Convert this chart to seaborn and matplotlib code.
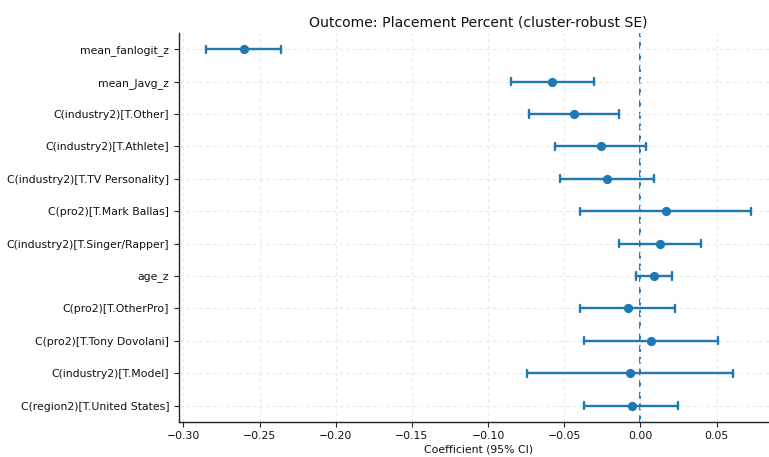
import matplotlib
matplotlib.use("Agg")
import matplotlib.pyplot as plt
import seaborn as sns
import pandas as pd

# Regression terms, point estimates and 95% confidence bounds
terms = [
    "mean_fanlogit_z",
    "mean_Javg_z",
    "C(industry2)[T.Other]",
    "C(industry2)[T.Athlete]",
    "C(industry2)[T.TV Personality]",
    "C(pro2)[T.Mark Ballas]",
    "C(industry2)[T.Singer/Rapper]",
    "age_z",
    "C(pro2)[T.OtherPro]",
    "C(pro2)[T.Tony Dovolani]",
    "C(industry2)[T.Model]",
    "C(region2)[T.United States]",
]
coef = [-0.2605, -0.0578, -0.0436, -0.0261, -0.0223, 0.0166,
        0.0129, 0.0089, -0.0085, 0.0070, -0.0070, -0.0059]
ci_low = [-0.2850, -0.0852, -0.0731, -0.0563, -0.0530, -0.0394,
          -0.0142, -0.0029, -0.0399, -0.0372, -0.0745, -0.0372]
ci_high = [-0.2357, -0.0307, -0.0138, 0.0039, 0.0089, 0.0724,
           0.0396, 0.0207, 0.0225, 0.0510, 0.0608, 0.0249]

# Long form: the median of (low, coef, high) is the estimate and the
# full-range interval spans the confidence bounds
rows = []
for t, lo, c, hi in zip(terms, ci_low, coef, ci_high):
    for v in (lo, c, hi):
        rows.append({"term": t, "value": v})
df = pd.DataFrame(rows)

sns.set_style("white")
plt.rcParams["font.family"] = ["DejaVu Sans"]
plt.rcParams["text.color"] = "#111111"
plt.rcParams["axes.labelcolor"] = "#111111"
plt.rcParams["xtick.color"] = "#111111"
plt.rcParams["ytick.color"] = "#111111"

color = "#1f77b4"
fig = plt.figure(figsize=(7.69, 4.57), dpi=100)
ax = fig.add_axes([0.2328, 0.0772, 0.779, 0.8505])

sns.pointplot(
    data=df, x="value", y="term", order=terms,
    estimator="median", errorbar=("pi", 100),
    linestyle="none", markers="o", color=color,
    capsize=0.22, err_kws={"linewidth": 1.7}, markersize=4.6,
    ax=ax,
)

ax.axvline(0, color=color, linestyle=(0, (3.5, 2.5)), linewidth=1.4, zorder=0.5)
ax.grid(True, linestyle=(0, (3, 3)), color="#e8e8e8", linewidth=0.8)
ax.set_axisbelow(True)
ax.set_xlim(-0.3029, 0.0903)
ax.set_xticks([-0.30, -0.25, -0.20, -0.15, -0.10, -0.05, 0.00, 0.05])
ax.set_xticklabels(["\u22120.30", "\u22120.25", "\u22120.20", "\u22120.15",
                    "\u22120.10", "\u22120.05", "0.00", "0.05"])
for side in ("top", "right"):
    ax.spines[side].set_visible(False)
for side in ("left", "bottom"):
    ax.spines[side].set_color("#222222")
    ax.spines[side].set_linewidth(1.0)
ax.tick_params(axis="both", labelsize=7.8, length=3.5, width=0.8,
               color="#222222", left=True, bottom=True)
ax.set_xlabel("Coefficient (95% CI)", fontsize=7.8, labelpad=2)
ax.set_ylabel("")
ax.set_title("Outcome: Placement Percent (cluster-robust SE)", fontsize=10.1, pad=5)

fig.savefig("out.png", dpi=100)
